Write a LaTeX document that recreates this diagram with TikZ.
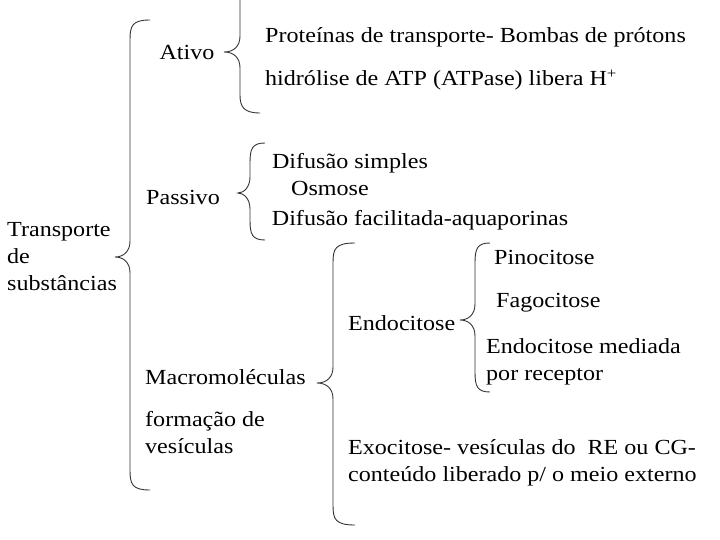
\documentclass[tikz,border=0pt]{standalone}
\usepackage{fontspec}
\setmainfont[FakeStretch=1.12]{Liberation Serif}
\begin{document}
\begin{tikzpicture}[x=1pt,y=-1pt,
  lbl/.style={inner sep=0pt,anchor=west,font=\fontsize{21.5}{27}\selectfont,align=left},
  ctr/.style={inner sep=0pt,font=\fontsize{21.5}{27}\selectfont,align=center},
  br/.style={draw=black!80,line width=0.9pt}]
\useasboundingbox (0,0) rectangle (720,540);
\newcommand{\mybrace}[6]{% #1 xv, #2 xtip, #3 ytop, #4 ytip, #5 ybot, #6 xend
  \draw[br] (#6,#3) .. controls (#1+2,#3) and (#1,#3+6) .. (#1,#3+20) -- (#1,#4-16)
    .. controls (#1,#4-6) and (#1-6,#4) .. (#2,#4)
    .. controls (#1-6,#4) and (#1,#4+6) .. (#1,#4+16) -- (#1,#5-20)
    .. controls (#1,#5-6) and (#1+2,#5) .. (#6,#5);}
\mybrace{130}{115}{20}{257}{490}{150}
\draw[br] (240,0) -- (240,36) .. controls (240,46) and (234,52) .. (224,52)
  .. controls (234,52) and (240,58) .. (240,68) -- (240,95) .. controls (240,107) and (244,113) .. (260,113);
\mybrace{250}{238}{143}{193}{240}{265}
\mybrace{333}{317}{243}{383}{525}{355}
\mybrace{475}{460}{243}{320}{392}{490}
\node[ctr] (ativo) at (187,52) {Ativo};
\node[lbl] (prot) at (265,37) {Proteínas de transporte- Bombas de prótons};
\node[lbl] (hidr) at (265,80) {hidrólise de ATP (ATPase) libera H\textsuperscript{+}};
\node[ctr] (pass) at (183,197) {Passivo};
\node[ctr] (difs) at (350,163) {Difusão simples};
\node[ctr] (osm) at (330,188) {Osmose};
\node[ctr] (diff) at (420,220) {Difusão facilitada-aquaporinas};
\node[lbl] (trans) at (7,257) {Transporte\\de\\substâncias};
\node[lbl] (pino) at (494,257) {Pinocitose};
\node[lbl] (fago) at (496,303) {Fagocitose};
\node[lbl] (endo) at (348,323) {Endocitose};
\node[lbl] (endm) at (486,362) {Endocitose mediada\\por receptor};
\node[lbl] (macro) at (145,377) {Macromoléculas};
\node[lbl] (form) at (145,433) {formação de\\vesículas};
\node[lbl] (exo) at (348,463) {Exocitose- vesículas do\ \ RE ou CG-\\conteúdo liberado p/ o meio externo};
\end{tikzpicture}
\end{document}
